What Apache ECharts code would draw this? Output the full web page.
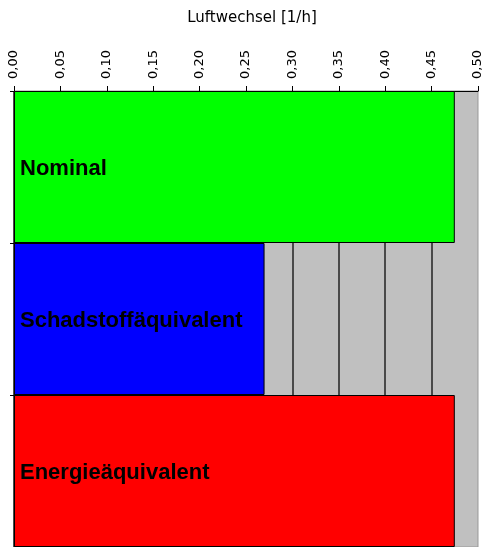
<!DOCTYPE html>
<html>
<head>
<meta charset="utf-8">
<script src="https://cdn.jsdelivr.net/npm/echarts@6/dist/echarts.min.js"></script>
<style>
html,body{margin:0;padding:0;background:#fff;}
#chart{width:488px;height:547px;}
</style>
</head>
<body>
<div id="chart"></div>
<script type="text/javascript">
var categories = ['Nominal', 'Schadstoffäquivalent', 'Energieäquivalent'];
var values = [0.475, 0.27, 0.475];
var barColors = ['#00FF00', '#0000FF', '#FF0000'];

var chart = echarts.init(document.getElementById('chart'));

chart.setOption({
    animation: false,
    title: {
        text: 'Luftwechsel [1/h]',
        left: 247,
        top: 6,
        textAlign: 'center',
        textStyle: {fontSize: 15, fontWeight: 'normal', color: '#000', fontFamily: 'DejaVu Sans'}
    },
    grid: {
        left: 14,
        right: 10,
        top: 91,
        bottom: 0,
        show: true,
        backgroundColor: '#C0C0C0',
        borderColor: '#999',
        borderWidth: 1
    },
    xAxis: {
        type: 'value',
        position: 'top',
        min: 0,
        max: 0.5,
        interval: 0.05,
        axisLine: {show: true, lineStyle: {color: '#000', width: 1}},
        axisTick: {show: true, length: 5, lineStyle: {color: '#000'}},
        axisLabel: {
            rotate: -90,
            margin: 12,
            fontSize: 13,
            color: '#000',
            fontFamily: 'DejaVu Sans',
            formatter: function (v) { return v.toFixed(2).replace('.', ','); }
        },
        splitLine: {show: true, showMaxLine: false, lineStyle: {color: '#222', width: 1.5}}
    },
    yAxis: {
        type: 'category',
        data: categories,
        inverse: true,
        axisLine: {show: true, lineStyle: {color: '#000', width: 1}},
        axisTick: {show: true, length: 4, lineStyle: {color: '#000'}},
        axisLabel: {show: false}
    },
    series: [{
        type: 'bar',
        barCategoryGap: 0,
        data: values.map(function (v, i) {
            return {value: v, itemStyle: {color: barColors[i]}};
        }),
        itemStyle: {borderColor: '#000', borderWidth: 1},
        label: {
            show: true,
            position: 'insideLeft',
            distance: 6,
            offset: [0, 2],
            formatter: '{b}',
            color: '#000',
            fontSize: 22,
            fontWeight: 'bold',
            fontFamily: 'Liberation Sans'
        }
    }]
});
</script>
</body>
</html>
